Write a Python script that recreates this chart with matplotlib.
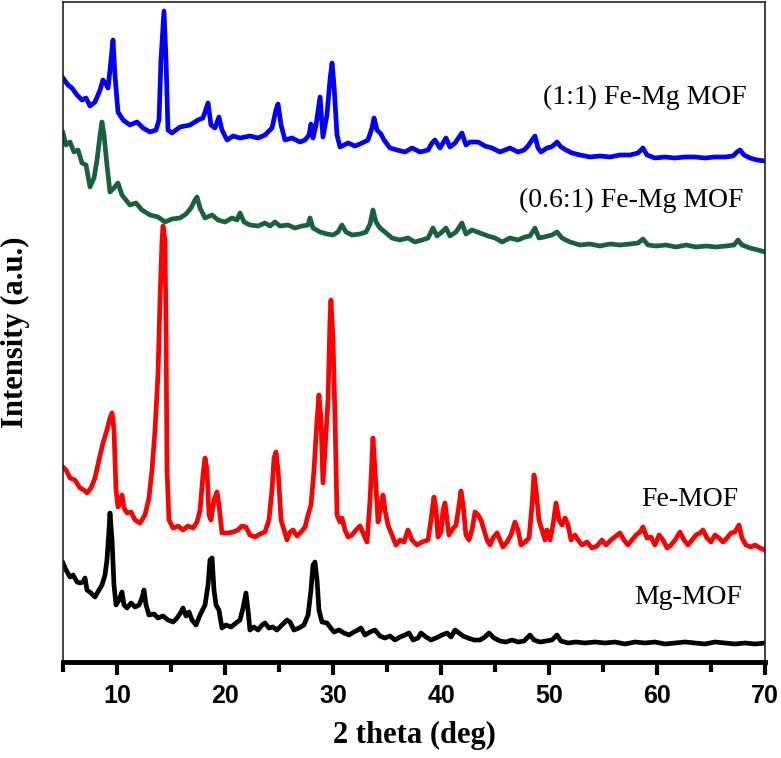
import matplotlib
matplotlib.use("Agg")
import matplotlib.pyplot as plt
from matplotlib.ticker import MultipleLocator

# --- XRD data (2 theta in deg, intensity in a.u.) ---
mg_theta = [5.00, 5.28, 5.65, 5.93, 6.30, 6.57, 6.85, 7.04, 7.22, 7.59, 7.96, 8.33, 8.61, 8.89, 9.07, 9.26,
            9.35, 9.54, 9.72, 9.91, 10.19, 10.46, 10.65, 10.93, 11.30, 11.67, 12.04, 12.31, 12.50, 12.69,
            12.96, 13.43, 13.80, 14.26, 14.72, 15.19, 15.56, 15.93, 16.11, 16.39, 16.67, 16.94, 17.31,
            17.69, 18.15, 18.43, 18.61, 18.80, 18.98, 19.17, 19.44, 19.72, 20.09, 20.56, 21.02, 21.39,
            21.67, 21.94, 22.13, 22.31, 22.69, 23.06, 23.43, 23.70, 24.07, 24.44, 24.81, 25.28, 25.74,
            26.02, 26.39, 26.85, 27.31, 27.69, 27.96, 28.15, 28.33, 28.52, 28.70, 28.98, 29.44, 29.72,
            30.09, 30.56, 31.02, 31.48, 31.94, 32.31, 32.59, 32.96, 33.43, 33.89, 34.35, 34.81, 35.28,
            35.74, 36.20, 36.67, 37.04, 37.41, 37.87, 38.15, 38.61, 39.07, 39.54, 40.09, 40.56, 40.93,
            41.30, 41.67, 42.04, 42.50, 43.06, 43.61, 44.07, 44.44, 44.91, 45.46, 46.02, 46.57, 47.13,
            47.69, 48.24, 48.61, 49.17, 49.72, 50.28, 50.74, 51.11, 51.76, 52.50, 53.33, 54.26, 55.19,
            56.11, 57.04, 57.96, 58.89, 59.81, 60.74, 61.67, 62.59, 63.52, 64.44, 65.37, 66.30, 67.22,
            68.15, 69.07, 70.00]
mg_int = [99, 92, 85, 87, 80, 79, 80, 84, 72, 69, 65, 72, 77, 87, 102, 132,
          149, 122, 77, 57, 62, 70, 57, 54, 59, 55, 57, 64, 72, 57,
          47, 48, 44, 46, 42, 40, 44, 50, 54, 46, 50, 42, 37,
          47, 57, 77, 102, 104, 72, 57, 52, 34, 37, 35, 39, 42,
          54, 69, 52, 32, 35, 32, 37, 39, 34, 35, 32, 37, 42,
          40, 32, 34, 37, 47, 72, 97, 100, 82, 52, 40, 39, 35,
          30, 32, 29, 27, 30, 32, 34, 27, 30, 32, 26, 24, 26,
          22, 25, 27, 29, 22, 24, 29, 25, 22, 24, 27, 29, 25,
          32, 29, 26, 24, 22, 22, 25, 29, 24, 21, 20, 22, 20,
          21, 27, 22, 20, 21, 22, 27, 21, 19, 20, 19, 20, 19,
          20, 18, 20, 19, 20, 18, 19, 20, 19, 18, 20, 19, 18,
          19, 18, 19]

fe_theta = [5.00, 5.28, 5.65, 6.11, 6.57, 6.94, 7.22, 7.59, 7.96, 8.33, 8.70, 9.07, 9.35, 9.54, 9.72, 9.91,
            10.09, 10.37, 10.46, 10.65, 10.93, 11.30, 11.67, 12.13, 12.59, 12.96, 13.24, 13.52, 13.80,
            13.98, 14.17, 14.26, 14.44, 14.54, 14.63, 14.81, 15.19, 15.65, 16.11, 16.57, 17.04, 17.41,
            17.69, 17.96, 18.15, 18.33, 18.52, 18.70, 18.98, 19.26, 19.44, 19.72, 20.28, 20.74, 21.20,
            21.57, 21.94, 22.31, 22.78, 23.24, 23.70, 24.07, 24.35, 24.54, 24.72, 24.91, 25.19, 25.46,
            25.74, 26.02, 26.30, 26.67, 27.04, 27.41, 27.69, 27.96, 28.24, 28.52, 28.70, 28.89, 29.07,
            29.26, 29.54, 29.72, 29.81, 30.00, 30.19, 30.37, 30.65, 30.83, 31.11, 31.39, 31.76, 32.13,
            32.50, 32.87, 33.15, 33.43, 33.70, 33.89, 34.17, 34.44, 34.63, 34.81, 35.09, 35.46, 35.83,
            36.20, 36.57, 36.94, 37.31, 37.78, 38.24, 38.80, 39.07, 39.35, 39.54, 39.72, 40.00, 40.19,
            40.37, 40.56, 40.74, 41.02, 41.39, 41.67, 41.85, 42.04, 42.31, 42.59, 42.87, 43.15, 43.43,
            43.70, 43.98, 44.26, 44.54, 44.81, 45.19, 45.46, 45.74, 46.11, 46.48, 46.85, 47.13, 47.41,
            47.78, 48.15, 48.43, 48.61, 48.80, 49.07, 49.35, 49.63, 49.81, 50.09, 50.37, 50.65, 50.93,
            51.20, 51.48, 51.76, 52.04, 52.41, 52.69, 53.06, 53.52, 53.98, 54.44, 54.91, 55.28, 55.74,
            56.20, 56.57, 56.94, 57.31, 57.69, 58.06, 58.43, 58.70, 59.07, 59.44, 59.81, 60.19, 60.56,
            60.93, 61.30, 61.67, 62.13, 62.50, 62.87, 63.24, 63.61, 63.98, 64.26, 64.63, 65.00, 65.37,
            65.74, 66.11, 66.48, 66.85, 67.22, 67.59, 67.87, 68.24, 68.70, 69.07, 69.54, 70.00]
fe_int = [95, 92, 84, 82, 74, 72, 69, 74, 84, 102, 119, 132, 144, 149, 132, 72,
          55, 62, 67, 54, 49, 50, 42, 39, 47, 64, 92, 132, 189,
          262, 322, 336, 322, 232, 92, 42, 34, 36, 32, 36, 34, 40,
          52, 87, 104, 92, 47, 42, 62, 70, 57, 29, 29, 30, 32,
          36, 35, 27, 25, 28, 30, 42, 72, 104, 110, 92, 42, 32,
          22, 30, 32, 26, 30, 35, 47, 57, 92, 142, 167, 142, 79,
          112, 162, 242, 262, 222, 142, 47, 40, 44, 32, 25, 27, 32,
          36, 27, 20, 62, 124, 92, 40, 57, 67, 52, 37, 27, 17,
          22, 20, 32, 22, 17, 20, 22, 42, 65, 52, 25, 30, 52,
          59, 42, 27, 32, 37, 57, 71, 57, 27, 22, 32, 50, 47,
          42, 32, 22, 17, 24, 29, 22, 15, 20, 27, 40, 32, 17,
          20, 24, 57, 87, 72, 42, 32, 22, 32, 22, 37, 59, 42,
          37, 44, 37, 22, 27, 22, 17, 20, 14, 16, 22, 17, 22,
          26, 29, 22, 17, 22, 27, 30, 35, 24, 25, 17, 27, 22,
          14, 17, 22, 30, 22, 17, 22, 27, 29, 32, 24, 20, 27,
          24, 20, 24, 29, 30, 37, 24, 17, 15, 17, 14, 12]

mix06_theta = [5.00, 5.28, 5.65, 6.02, 6.39, 6.76, 7.13, 7.50, 7.87, 8.15, 8.43, 8.61, 8.80, 9.07, 9.35,
               9.72, 10.09, 10.46, 10.83, 11.20, 11.76, 12.31, 13.06, 13.80, 14.44, 15.09, 15.83, 16.39,
               16.85, 17.22, 17.41, 17.69, 18.15, 18.80, 19.35, 20.00, 20.65, 21.11, 21.39, 21.76, 22.31,
               23.06, 23.70, 24.17, 24.63, 25.09, 25.83, 26.48, 27.13, 27.69, 27.87, 28.15, 28.80, 29.44,
               30.00, 30.46, 30.83, 31.20, 31.76, 32.50, 33.06, 33.43, 33.70, 33.98, 34.35, 34.81, 35.46,
               36.20, 36.94, 37.59, 38.24, 38.80, 39.26, 39.63, 40.09, 40.46, 40.83, 41.39, 41.94, 42.31,
               42.87, 43.61, 44.35, 45.00, 45.65, 46.39, 47.13, 47.78, 48.24, 48.70, 49.07, 49.54, 50.28,
               50.74, 51.20, 51.94, 52.87, 53.80, 54.72, 55.65, 56.57, 57.50, 58.24, 58.70, 59.17, 59.91,
               60.83, 61.76, 62.69, 63.61, 64.54, 65.46, 66.39, 67.13, 67.50, 67.87, 68.61, 69.35, 70.00]
mix06_int = [129, 117, 120, 110, 112, 99, 97, 75, 84, 102, 127, 140, 127, 97, 70,
             74, 79, 67, 62, 57, 59, 52, 47, 45, 40, 43, 44, 48,
             54, 62, 65, 54, 44, 47, 42, 40, 44, 42, 49, 40, 37,
             36, 39, 36, 40, 36, 37, 34, 36, 37, 44, 34, 30, 28,
             27, 30, 37, 30, 27, 28, 30, 38, 52, 40, 34, 30, 24,
             22, 24, 20, 22, 24, 34, 26, 30, 34, 26, 30, 39, 28,
             32, 29, 26, 24, 20, 24, 22, 25, 26, 34, 24, 25, 27,
             30, 24, 20, 17, 18, 16, 18, 17, 18, 19, 23, 17, 16,
             17, 15, 17, 15, 16, 15, 16, 17, 22, 17, 14, 12, 10]

mix11_theta = [5.00, 5.46, 5.83, 6.30, 6.76, 7.13, 7.50, 7.96, 8.43, 8.70, 8.98, 9.17, 9.35, 9.63, 9.81,
               10.09, 10.56, 11.20, 11.85, 12.41, 13.06, 13.61, 13.89, 14.07, 14.35, 14.54, 14.72, 15.09,
               15.83, 16.76, 17.50, 17.96, 18.15, 18.43, 18.70, 19.07, 19.44, 19.72, 20.19, 20.74, 21.39,
               22.31, 23.06, 23.70, 24.35, 24.72, 24.91, 25.19, 25.56, 26.20, 26.94, 27.41, 27.78, 27.96,
               28.15, 28.43, 28.80, 29.07, 29.44, 29.72, 29.91, 30.09, 30.37, 30.65, 31.39, 32.04, 32.69,
               33.24, 33.61, 33.80, 34.07, 34.44, 34.72, 35.28, 35.93, 36.67, 37.31, 38.06, 38.80, 39.17,
               39.44, 39.91, 40.46, 40.83, 41.30, 41.94, 42.31, 42.69, 43.43, 44.07, 44.72, 45.46, 46.39,
               47.13, 47.69, 48.06, 48.43, 48.70, 48.98, 49.26, 49.81, 50.19, 50.46, 50.74, 51.11, 51.57,
               52.13, 52.87, 53.80, 54.72, 55.65, 56.57, 57.50, 58.24, 58.70, 59.07, 59.81, 60.74, 61.67,
               62.59, 63.52, 64.44, 65.37, 66.30, 67.04, 67.41, 67.69, 68.06, 68.61, 69.26, 70.00]
mix11_int = [104, 97, 94, 87, 82, 84, 76, 80, 92, 102, 98, 94, 112, 142, 107,
             70, 62, 57, 60, 54, 50, 52, 62, 122, 171, 122, 52, 49,
             55, 57, 62, 64, 70, 79, 57, 54, 65, 52, 42, 46, 44,
             46, 44, 47, 54, 72, 78, 57, 42, 44, 40, 42, 47, 58,
             44, 57, 85, 45, 67, 102, 119, 97, 47, 35, 39, 36, 39,
             42, 54, 64, 52, 48, 42, 34, 32, 30, 34, 30, 32, 39,
             42, 34, 44, 35, 39, 49, 37, 40, 40, 36, 34, 30, 34,
             30, 32, 36, 42, 46, 34, 30, 34, 35, 37, 40, 35, 32,
             29, 27, 25, 26, 25, 27, 27, 29, 34, 27, 24, 25, 24,
             25, 25, 24, 25, 25, 26, 30, 32, 27, 24, 22, 21]

labels = ["Mg-MOF", "Fe-MOF", "(0.6:1) Fe-Mg MOF", "(1:1) Fe-Mg MOF"]
thetas = [mg_theta, fe_theta, mix06_theta, mix11_theta]
intensities = [mg_int, fe_int, mix06_int, mix11_int]

# --- style / layout ---
colors = ["#000000", "#ff0000", "#17623d", "#0000ff"]
offsets = [0, 100, 400, 480]          # vertical stacking
label_pos = [(67.9, 65), (67.5, 163), (68.0, 462), (68.3, 565)]

serif = "Liberation Serif"
sans = "Liberation Sans"

fig = plt.figure(figsize=(7.81, 7.58), dpi=100)
ax = fig.add_axes([63 / 781, 1 - 662 / 758, 702 / 781, 660 / 758])

for x, y, off, c in zip(thetas, intensities, offsets, colors):
    ax.plot(x, [v + off for v in y], color=c, linewidth=3.4, solid_joinstyle="round")

for lab, (lx, ly) in zip(labels, label_pos):
    ax.text(lx, ly, lab, ha="right", va="center", fontsize=20, fontfamily=serif)

ax.set_xlim(5, 70)
ax.set_ylim(0, 660)
ax.set_yticks([])
ax.xaxis.set_major_locator(MultipleLocator(10))
ax.xaxis.set_minor_locator(MultipleLocator(5))
ax.tick_params(axis="x", which="major", direction="out", length=9, width=3, labelsize=18, pad=7)
ax.tick_params(axis="x", which="minor", direction="out", length=7, width=3)
for lbl in ax.get_xticklabels():
    lbl.set_fontfamily(sans)
    lbl.set_fontweight("bold")

for side in ["top", "right", "left"]:
    ax.spines[side].set_linewidth(1.2)
    ax.spines[side].set_color("#222222")
ax.spines["bottom"].set_linewidth(3.5)

ax.set_xlabel("2 theta (deg)", fontsize=22, fontweight="bold", fontfamily=serif, labelpad=9)
ax.set_ylabel("Intensity (a.u.)", fontsize=22, fontweight="bold", fontfamily=serif, labelpad=24)

fig.savefig("out.png", dpi=100)
plt.close(fig)
